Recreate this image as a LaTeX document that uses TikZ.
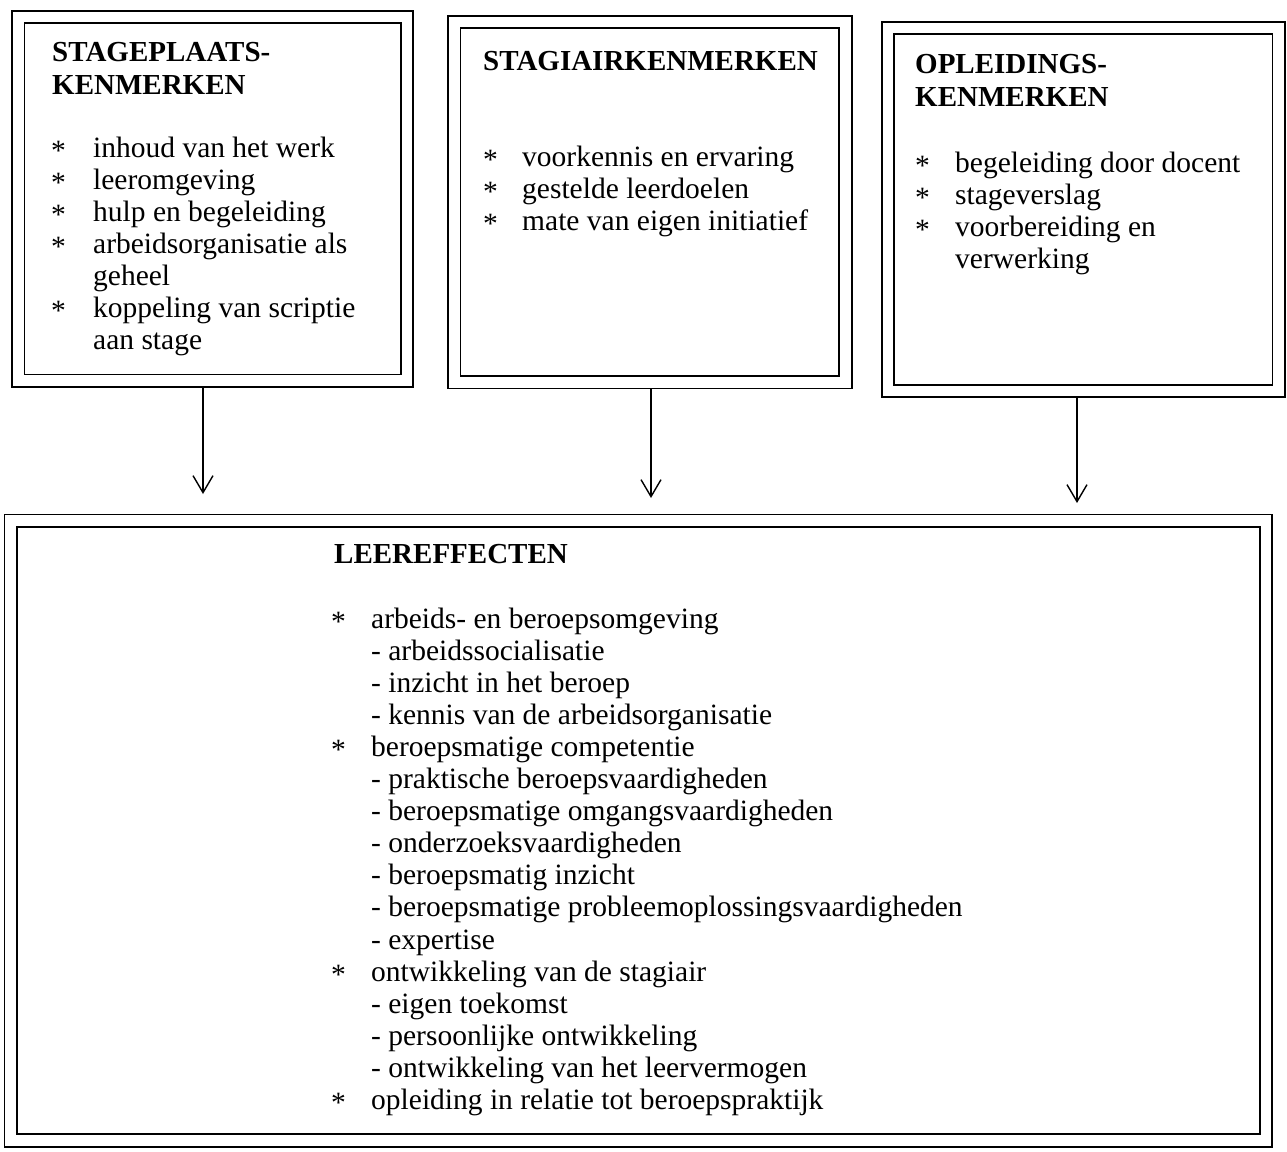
\documentclass[tikz,border=0pt]{standalone}
\usepackage{fontspec}
\setmainfont{Liberation Serif}
\usetikzlibrary{arrows.meta}
% list bullet, set a little lower than the plain asterisk
\newcommand{\itemstar}{\raisebox{-3pt}{*}}
\begin{document}
\begin{tikzpicture}[x=1pt,y=-1pt,
  framebox/.style={draw, double, double distance=10.7pt, line width=1.8pt,
                   outer sep=7.15pt, inner sep=0pt},
  heading/.style={anchor=base west, inner sep=0pt,
                  font=\fontsize{29}{33}\selectfont\bfseries},
  items/.style={anchor=base west, inner sep=0pt,
                font=\fontsize{29.5}{32.1}\selectfont},
  link/.style={line width=1.4pt,
               -{Straight Barb[length=17pt,width=20pt,line width=1.4pt]}}]

% page area
\fill[white] (0,0) rectangle (1287,1151);
\useasboundingbox (0,0) rectangle (1287,1151);

% double-ruled frames
\node[framebox, minimum width=388.75pt, minimum height=363.75pt] (b1) at (212.6,198.9) {};
\node[framebox, minimum width=391.25pt, minimum height=360.25pt] (b2) at (649.9,202.1) {};
\node[framebox, minimum width=390.75pt, minimum height=363pt]    (b3) at (1083.4,209.5) {};
\node[framebox, minimum width=1255.25pt, minimum height=619.75pt] (b4) at (638.4,830.6) {};

% stageplaatskenmerken
\node[heading] (t1) at (52,61) {\begin{tabular}[t]{@{}l@{}}STAGEPLAATS-\\KENMERKEN\end{tabular}};
\node[items] (l1) at (51,157) {\begin{tabular}[t]{@{}p{42pt}@{}l@{}}
\itemstar & inhoud van het werk\\
\itemstar & leeromgeving\\
\itemstar & hulp en begeleiding\\
\itemstar & arbeidsorganisatie als\\
          & geheel\\
\itemstar & koppeling van scriptie\\
          & aan stage
\end{tabular}};

% stagiairkenmerken
\node[heading] (t2) at (483,70) {STAGIAIRKENMERKEN};
\node[items] (l2) at (483,166) {\begin{tabular}[t]{@{}p{39pt}@{}l@{}}
\itemstar & voorkennis en ervaring\\
\itemstar & gestelde leerdoelen\\
\itemstar & mate van eigen initiatief
\end{tabular}};

% opleidingskenmerken
\node[heading] (t3) at (915,73) {\begin{tabular}[t]{@{}l@{}}OPLEIDINGS-\\KENMERKEN\end{tabular}};
\node[items] (l3) at (915,172) {\begin{tabular}[t]{@{}p{40pt}@{}l@{}}
\itemstar & begeleiding door docent\\
\itemstar & stageverslag\\
\itemstar & voorbereiding en\\
          & verwerking
\end{tabular}};

% leereffecten
\node[heading] (t4) at (334,563) {LEEREFFECTEN};
\node[items] (l4) at (331,628) {\begin{tabular}[t]{@{}p{40pt}@{}l@{}}
\itemstar & arbeids- en beroepsomgeving\\
          & - arbeidssocialisatie\\
          & - inzicht in het beroep\\
          & - kennis van de arbeidsorganisatie\\
\itemstar & beroepsmatige competentie\\
          & - praktische beroepsvaardigheden\\
          & - beroepsmatige omgangsvaardigheden\\
          & - onderzoeksvaardigheden\\
          & - beroepsmatig inzicht\\
          & - beroepsmatige probleemoplossingsvaardigheden\\
          & - expertise\\
\itemstar & ontwikkeling van de stagiair\\
          & - eigen toekomst\\
          & - persoonlijke ontwikkeling\\
          & - ontwikkeling van het leervermogen\\
\itemstar & opleiding in relatie tot beroepspraktijk
\end{tabular}};

% influence arrows, ending just above the effects frame
\coordinate (e1) at (203,494);
\coordinate (e2) at (651,498);
\coordinate (e3) at (1077,503);
\draw[link] (b1.south -| e1) -- (e1);
\draw[link] (b2.south -| e2) -- (e2);
\draw[link] (b3.south -| e3) -- (e3);
\end{tikzpicture}
\end{document}
